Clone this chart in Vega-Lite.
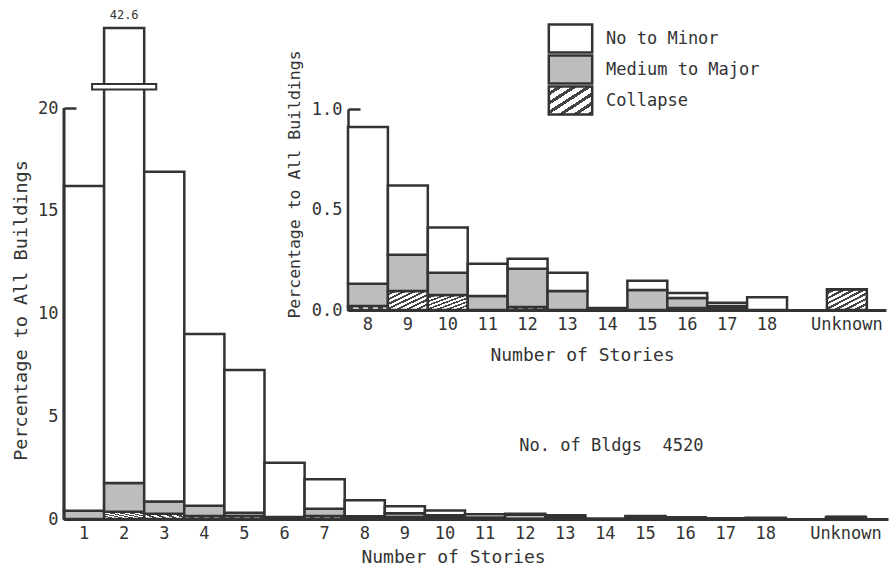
{
  "$schema": "https://vega.github.io/schema/vega-lite/v6.json",
  "width": 824,
  "height": 491,
  "autosize": {"type": "none"},
  "padding": {"left": 64, "top": 28, "right": 2, "bottom": 49},
  "background": "white",
  "config": {
    "font": "DejaVu Sans Mono",
    "view": {"stroke": null},
    "axis": {"grid": false, "labelColor": "#333", "titleColor": "#333", "labelFontSize": 17, "titleFontSize": 18, "titleFontWeight": "normal", "labelFont": "DejaVu Sans Mono", "titleFont": "DejaVu Sans Mono", "domainColor": "#333", "tickColor": "#333", "zindex": 1},
    "legend": {"labelFont": "DejaVu Sans Mono", "labelColor": "#333", "labelFontSize": 17}
  },
  "datasets": {
    "bldgs": [
      {"stories": "1", "damage": "Collapse", "pct": 0},
      {"stories": "1", "damage": "Medium to Major", "pct": 0.4},
      {"stories": "1", "damage": "No to Minor", "pct": 15.8},
      {"stories": "2", "damage": "Collapse", "pct": 0.35},
      {"stories": "2", "damage": "Medium to Major", "pct": 1.4},
      {"stories": "2", "damage": "No to Minor", "pct": 40.85},
      {"stories": "3", "damage": "Collapse", "pct": 0.25},
      {"stories": "3", "damage": "Medium to Major", "pct": 0.6},
      {"stories": "3", "damage": "No to Minor", "pct": 16.05},
      {"stories": "4", "damage": "Collapse", "pct": 0.15},
      {"stories": "4", "damage": "Medium to Major", "pct": 0.5},
      {"stories": "4", "damage": "No to Minor", "pct": 8.35},
      {"stories": "5", "damage": "Collapse", "pct": 0.15},
      {"stories": "5", "damage": "Medium to Major", "pct": 0.15},
      {"stories": "5", "damage": "No to Minor", "pct": 6.95},
      {"stories": "6", "damage": "Collapse", "pct": 0.05},
      {"stories": "6", "damage": "Medium to Major", "pct": 0.05},
      {"stories": "6", "damage": "No to Minor", "pct": 2.64},
      {"stories": "7", "damage": "Collapse", "pct": 0.15},
      {"stories": "7", "damage": "Medium to Major", "pct": 0.35},
      {"stories": "7", "damage": "No to Minor", "pct": 1.43},
      {"stories": "8", "damage": "Collapse", "pct": 0.02},
      {"stories": "8", "damage": "Medium to Major", "pct": 0.11},
      {"stories": "8", "damage": "No to Minor", "pct": 0.78},
      {"stories": "9", "damage": "Collapse", "pct": 0.095},
      {"stories": "9", "damage": "Medium to Major", "pct": 0.18},
      {"stories": "9", "damage": "No to Minor", "pct": 0.345},
      {"stories": "10", "damage": "Collapse", "pct": 0.075},
      {"stories": "10", "damage": "Medium to Major", "pct": 0.11},
      {"stories": "10", "damage": "No to Minor", "pct": 0.225},
      {"stories": "11", "damage": "Collapse", "pct": 0},
      {"stories": "11", "damage": "Medium to Major", "pct": 0.07},
      {"stories": "11", "damage": "No to Minor", "pct": 0.16},
      {"stories": "12", "damage": "Collapse", "pct": 0.015},
      {"stories": "12", "damage": "Medium to Major", "pct": 0.19},
      {"stories": "12", "damage": "No to Minor", "pct": 0.05},
      {"stories": "13", "damage": "Collapse", "pct": 0},
      {"stories": "13", "damage": "Medium to Major", "pct": 0.095},
      {"stories": "13", "damage": "No to Minor", "pct": 0.09},
      {"stories": "14", "damage": "Collapse", "pct": 0},
      {"stories": "14", "damage": "Medium to Major", "pct": 0},
      {"stories": "14", "damage": "No to Minor", "pct": 0.01},
      {"stories": "15", "damage": "Collapse", "pct": 0},
      {"stories": "15", "damage": "Medium to Major", "pct": 0.1},
      {"stories": "15", "damage": "No to Minor", "pct": 0.045},
      {"stories": "16", "damage": "Collapse", "pct": 0.01},
      {"stories": "16", "damage": "Medium to Major", "pct": 0.05},
      {"stories": "16", "damage": "No to Minor", "pct": 0.025},
      {"stories": "17", "damage": "Collapse", "pct": 0.01},
      {"stories": "17", "damage": "Medium to Major", "pct": 0.01},
      {"stories": "17", "damage": "No to Minor", "pct": 0.016},
      {"stories": "18", "damage": "Collapse", "pct": 0},
      {"stories": "18", "damage": "Medium to Major", "pct": 0},
      {"stories": "18", "damage": "No to Minor", "pct": 0.063},
      {"stories": "Unknown", "damage": "Collapse", "pct": 0.103},
      {"stories": "Unknown", "damage": "Medium to Major", "pct": 0},
      {"stories": "Unknown", "damage": "No to Minor", "pct": 0}
    ]
  },
  "resolve": {"scale": {"x": "independent", "y": "independent"}},
  "layer": [
    {
      "layer": [
        {
          "data": {"name": "bldgs"},
          "mark": {"type": "bar", "stroke": "#333"},
          "encoding": {
            "x": {"field": "stories", "type": "ordinal", "sort": null,
                  "scale": {"domain": ["1","2","3","4","5","6","7","8","9","10","11","12","13","14","15","16","17","18"," ","Unknown"], "paddingInner": 0, "paddingOuter": 0.274, "align": 0},
                  "axis": {"orient": "bottom", "labelAngle": 0, "ticks": false, "domainWidth": 3, "labelPadding": 6, "title": "Number of Stories", "titleX": 389, "titleY": 29, "titleBaseline": "top"}},
            "y": {"field": "pct", "type": "quantitative", "stack": "zero",
                  "scale": {"domain": [0, 21.5, 42.6], "range": [491, 49.2, 0], "nice": false, "zero": false},
                  "axis": {"values": [0, 5, 10, 15, 20], "domain": false, "tickSize": -12, "tickWidth": 2.5, "labelPadding": 18, "title": "Percentage to All Buildings", "titleFontSize": 18.5, "titleX": -44, "titleY": 282, "titleBaseline": "middle", "titleAlign": "center", "titleAngle": -90}},
            "fill": {
              "condition": [
                {"test": "datum.damage === 'Collapse'", "value": {"gradient": "linear", "x1": 0, "y1": 0, "x2": 1, "y2": 1,
                "stops": [
                  {"offset": 0, "color": "#ffffff"}, {"offset": 0.07, "color": "#ffffff"}, {"offset": 0.07, "color": "#444444"}, {"offset": 0.125, "color": "#444444"},
                  {"offset": 0.125, "color": "#ffffff"}, {"offset": 0.195, "color": "#ffffff"}, {"offset": 0.195, "color": "#444444"}, {"offset": 0.25, "color": "#444444"},
                  {"offset": 0.25, "color": "#ffffff"}, {"offset": 0.32, "color": "#ffffff"}, {"offset": 0.32, "color": "#444444"}, {"offset": 0.375, "color": "#444444"},
                  {"offset": 0.375, "color": "#ffffff"}, {"offset": 0.445, "color": "#ffffff"}, {"offset": 0.445, "color": "#444444"}, {"offset": 0.5, "color": "#444444"},
                  {"offset": 0.5, "color": "#ffffff"}, {"offset": 0.57, "color": "#ffffff"}, {"offset": 0.57, "color": "#444444"}, {"offset": 0.625, "color": "#444444"},
                  {"offset": 0.625, "color": "#ffffff"}, {"offset": 0.695, "color": "#ffffff"}, {"offset": 0.695, "color": "#444444"}, {"offset": 0.75, "color": "#444444"},
                  {"offset": 0.75, "color": "#ffffff"}, {"offset": 0.82, "color": "#ffffff"}, {"offset": 0.82, "color": "#444444"}, {"offset": 0.875, "color": "#444444"},
                  {"offset": 0.875, "color": "#ffffff"}, {"offset": 0.945, "color": "#ffffff"}, {"offset": 0.945, "color": "#444444"}, {"offset": 1, "color": "#444444"}
                ]}},
                {"test": "datum.damage === 'Medium to Major'", "value": "#bdbdbd"}
              ],
              "value": "#ffffff"
            },
            "strokeWidth": {"field": "damage", "type": "ordinal",
              "scale": {"domain": ["No to Minor", "Medium to Major", "Collapse"], "range": [2.5, 2.5, 2.5]},
              "legend": {"title": null, "orient": "none", "legendX": 495, "legendY": -1, "symbolType": "M-2.17,-1.4H2.17V1.4H-2.17Z", "symbolSize": 400, "rowPadding": -14, "labelOffset": 24, "labelFontSize": 17, "padding": 0,
                "encoding": {"symbols": {
                  "stroke": {"value": "#333"},
                  "fill": {"condition": [
                    {"test": "datum.value === 'Collapse'", "value": {"gradient": "linear", "x1": 0, "y1": 0, "x2": 1, "y2": 1,
                      "stops": [
                        {"offset": 0, "color": "#ffffff"}, {"offset": 0.1, "color": "#ffffff"}, {"offset": 0.1, "color": "#444444"}, {"offset": 0.166, "color": "#444444"},
                        {"offset": 0.166, "color": "#ffffff"}, {"offset": 0.266, "color": "#ffffff"}, {"offset": 0.266, "color": "#444444"}, {"offset": 0.333, "color": "#444444"},
                        {"offset": 0.333, "color": "#ffffff"}, {"offset": 0.433, "color": "#ffffff"}, {"offset": 0.433, "color": "#444444"}, {"offset": 0.5, "color": "#444444"},
                        {"offset": 0.5, "color": "#ffffff"}, {"offset": 0.6, "color": "#ffffff"}, {"offset": 0.6, "color": "#444444"}, {"offset": 0.666, "color": "#444444"},
                        {"offset": 0.666, "color": "#ffffff"}, {"offset": 0.766, "color": "#ffffff"}, {"offset": 0.766, "color": "#444444"}, {"offset": 0.833, "color": "#444444"},
                        {"offset": 0.833, "color": "#ffffff"}, {"offset": 0.933, "color": "#ffffff"}, {"offset": 0.933, "color": "#444444"}, {"offset": 1, "color": "#444444"}
                      ]}},
                    {"test": "datum.value === 'Medium to Major'", "value": "#bdbdbd"}
                  ], "value": "#ffffff"}
                }}}
            },
            "order": {"field": "damage", "sort": "ascending"}
          }
        },
        {
          "data": {"values": [{}]},
          "mark": {"type": "rule", "stroke": "#333", "strokeWidth": 3},
          "encoding": {
            "x": {"datum": "1", "type": "ordinal", "bandPosition": 0},
            "y": {"datum": 0, "type": "quantitative"},
            "y2": {"datum": 20}
          }
        },
        {
          "data": {"values": [{}]},
          "mark": {"type": "bar", "fill": "white", "stroke": "#333", "strokeWidth": 2, "width": {"band": 1.6}},
          "encoding": {
            "x": {"datum": "2", "type": "ordinal"},
            "y": {"datum": 20.9, "type": "quantitative"},
            "y2": {"datum": 21.17}
          }
        },
        {
          "data": {"values": [{}]},
          "mark": {"type": "text", "fontSize": 12, "baseline": "bottom", "dy": -6, "color": "#333"},
          "encoding": {
            "x": {"datum": "2", "type": "ordinal"},
            "y": {"datum": 42.6, "type": "quantitative"},
            "text": {"value": "42.6"}
          }
        },
        {
          "data": {"values": [{}]},
          "mark": {"type": "text", "fontSize": 17, "align": "center", "baseline": "middle", "dx": 6, "color": "#333"},
          "encoding": {
            "x": {"datum": "14", "type": "ordinal"},
            "y": {"datum": 3.55, "type": "quantitative"},
            "text": {"value": "No. of Bldgs \u00a04520"}
          }
        }
      ]
    },
    {
      "data": {"name": "bldgs"},
      "transform": [{"filter": {"field": "stories", "oneOf": ["8","9","10","11","12","13","14","15","16","17","18","Unknown"]}}],
      "mark": {"type": "bar", "stroke": "#333", "strokeWidth": 2.5},
      "encoding": {
        "x": {"field": "stories", "type": "ordinal", "sort": null,
              "scale": {"domain": ["8","9","10","11","12","13","14","15","16","17","18"," ","Unknown"], "range": [284, 822], "paddingInner": 0, "paddingOuter": 0.24, "align": 0},
              "axis": {"orient": "bottom", "offset": -209, "labelAngle": 0, "ticks": false, "domainWidth": 3, "labelPadding": 6, "title": "Number of Stories", "titleX": 518, "titleY": 36, "titleBaseline": "top"}},
        "y": {"field": "pct", "type": "quantitative", "stack": "zero",
              "scale": {"domain": [0, 1], "range": [282, 81], "nice": false, "zero": true},
              "axis": {"orient": "left", "offset": -284, "values": [0, 0.5, 1], "format": ".1f", "domainWidth": 2.5, "tickSize": -12, "tickWidth": 2.5, "labelPadding": 18, "title": "Percentage to All Buildings", "titleFontSize": 16.5, "titleX": -54, "titleY": 156, "titleBaseline": "middle", "titleAlign": "center", "titleAngle": -90}},
        "fill": {
          "condition": [
            {"test": "datum.damage === 'Collapse'", "value": {"gradient": "linear", "x1": 0, "y1": 0, "x2": 1, "y2": 1,
            "stops": [
              {"offset": 0, "color": "#ffffff"}, {"offset": 0.07, "color": "#ffffff"}, {"offset": 0.07, "color": "#444444"}, {"offset": 0.125, "color": "#444444"},
              {"offset": 0.125, "color": "#ffffff"}, {"offset": 0.195, "color": "#ffffff"}, {"offset": 0.195, "color": "#444444"}, {"offset": 0.25, "color": "#444444"},
              {"offset": 0.25, "color": "#ffffff"}, {"offset": 0.32, "color": "#ffffff"}, {"offset": 0.32, "color": "#444444"}, {"offset": 0.375, "color": "#444444"},
              {"offset": 0.375, "color": "#ffffff"}, {"offset": 0.445, "color": "#ffffff"}, {"offset": 0.445, "color": "#444444"}, {"offset": 0.5, "color": "#444444"},
              {"offset": 0.5, "color": "#ffffff"}, {"offset": 0.57, "color": "#ffffff"}, {"offset": 0.57, "color": "#444444"}, {"offset": 0.625, "color": "#444444"},
              {"offset": 0.625, "color": "#ffffff"}, {"offset": 0.695, "color": "#ffffff"}, {"offset": 0.695, "color": "#444444"}, {"offset": 0.75, "color": "#444444"},
              {"offset": 0.75, "color": "#ffffff"}, {"offset": 0.82, "color": "#ffffff"}, {"offset": 0.82, "color": "#444444"}, {"offset": 0.875, "color": "#444444"},
              {"offset": 0.875, "color": "#ffffff"}, {"offset": 0.945, "color": "#ffffff"}, {"offset": 0.945, "color": "#444444"}, {"offset": 1, "color": "#444444"}
            ]}},
            {"test": "datum.damage === 'Medium to Major'", "value": "#bdbdbd"}
          ],
          "value": "#ffffff"
        },
        "order": {"field": "damage", "sort": "ascending"}
      }
    }
  ]
}
